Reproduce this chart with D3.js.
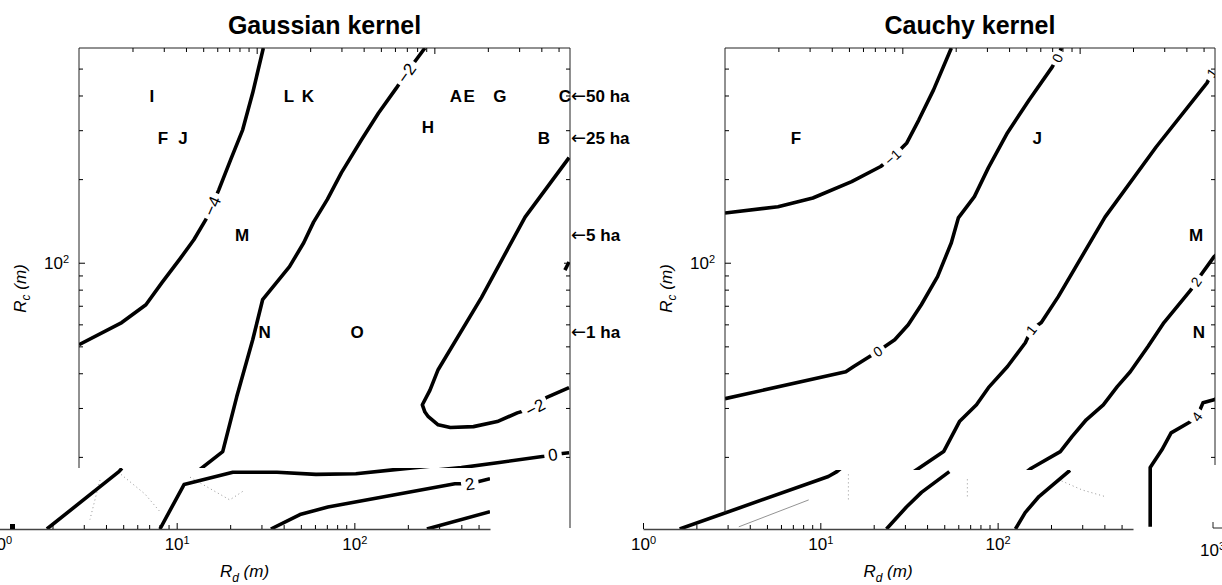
<!DOCTYPE html>
<html lang="en">
<head>
<meta charset="UTF-8">
<title>Gaussian and Cauchy kernel</title>
<script src="https://cdn.jsdelivr.net/npm/d3@7"></script>
<style>
  body { margin: 0; background: #fff; }
  text { font-family: "Liberation Sans", Arial, sans-serif; fill: #000; }
</style>
</head>
<body>
<svg id="chart" width="1222" height="585"></svg>
<script>
// axis domains (metres) and ticks
const rdDomain = [1, 580];
const rcDomain = [11, 593];
const xMajor = [1, 10, 100];
const xMinor = [2, 3, 4, 5, 6, 7, 8, 9, 20, 30, 40, 50, 60, 70, 80, 90, 200, 300, 400, 500];
const yMajor = [100];
const yMinor = [20, 30, 40, 50, 60, 70, 80, 90, 200, 300, 400, 500];
const areaHa = [50, 25, 5, 1];

// landscapes: letter, Rd (m), area (ha) -> Rc = sqrt(A/pi)
const gaussLetters = ["I", "L", "K", "A", "E", "G", "C", "F", "J", "H", "B", "M", "N", "O"];
const gaussLetterRd = [2.57, 15.2, 19.4, 132, 157, 234, 543, 2.97, 3.85, 92, 414, 8.27, 11.1, 36.7];
const gaussLetterHa = [50, 50, 50, 50, 50, 50, 50, 25, 25, 30, 25, 5, 1, 1];
const cauchyLetters = ["F", "J", "M", "N"];
const cauchyLetterRd = [2.51, 57.7, 453, 471];
const cauchyLetterHa = [25, 25, 5, 1];

// contour lines, [Rd, Rc] in metres -- Gaussian
const gaussM4 = [[10.9, 593], [9.5, 409], [8.34, 301], [7.14, 235], [6.12, 183], [5.6, 160], [5.17, 143], [4.43, 121], [3.69, 103], [2.93, 84.8], [2.38, 70.6], [1.74, 60.9], [1.0, 50.7]];
const gaussM2a = [[88.5, 593], [69.6, 482], [61.2, 426], [48.5, 346], [38.9, 277], [30.0, 211], [25.0, 169], [20.9, 140], [18.4, 118], [15.3, 96.8], [10.8, 73.6], [9.5, 52.8], [7.72, 32.9], [6.44, 20.9], [4.78, 18.0], [3.94, 16.85]];
const gaussM2b = [[573, 239], [324, 146], [184, 74.9], [105, 41.2], [94.5, 34.8], [85.6, 30.8], [88.5, 29.0], [92.5, 27.9], [105, 26.1], [123, 25.5], [166, 25.7], [226, 26.8], [293, 28.8], [369, 30.1], [426, 32.7], [573, 35.5]];
const gauss0 = [[82.4, 17.7], [142, 18.3], [232, 19.1], [415, 20.1], [465, 20.4], [573, 20.7]];
const gaussEdgeBit = [[543, 94.1], [573, 100.6]];
// bottom (shifted) strip -- Gaussian
const gaussStrip1 = [[1.86, 11.0], [4.73, 17.7], [4.92, 18.2]];
const gaussStrip2 = [[8.05, 11.0], [11.0, 15.9], [20.7, 17.6], [36.7, 17.6], [60.8, 17.3], [102, 17.4], [169, 18.0], [266, 18.5]];
const gaussStrip3 = [[33.9, 11.0], [49.4, 12.4], [71.0, 13.2], [169, 14.6], [368, 16.0], [447, 16.0], [580, 16.7]];
const gaussStrip4 = [[256, 11.0], [580, 12.7]];
const gaussDust = [
    [[4.86, 17.3], [6.63, 14.7], [8.05, 12.7]],
    [[3.7, 16.5], [3.25, 11.9]],
    [[11.9, 16.9], [19.9, 14.0], [24.2, 15.2]]
];

// contour lines -- Cauchy
const cauchyM1 = [[18.9, 593], [15.0, 419], [12.4, 327], [10.6, 270], [8.82, 240], [7.55, 222], [5.18, 196], [3.13, 171], [1.99, 159], [1.0, 151]];
const cauchy0 = [[78.8, 593], [74.8, 546], [70.1, 507], [52.0, 386], [39.2, 294], [30.6, 220], [25.5, 173], [20.7, 145], [18.9, 118], [15.8, 89.1], [12.8, 70.6], [10.8, 59.8], [9.06, 52.8], [7.26, 47.9], [5.32, 42.3], [4.8, 40.5], [1.0, 32.4]];
const cauchy1 = [[611, 511], [557, 482], [523, 444], [270, 261], [139, 146], [75.8, 75.5], [60.8, 60.9], [53.4, 57.4], [49.4, 51.5], [39.2, 42.3], [30.6, 35.5], [26.2, 30.8], [21.0, 26.8], [17.1, 20.9], [12.4, 18.2], [11.0, 17.3]];
const cauchy2 = [[620, 110], [572, 105], [453, 85.4], [425, 80.0], [299, 60.9], [243, 49.9], [193, 40.5], [163, 35.8], [136, 30.8], [109, 27.2], [90.8, 23.7], [77.8, 20.9], [53.4, 18.2], [48.7, 17.4]];
const cauchy4 = [[620, 33], [572, 32.1], [496, 31.3], [459, 27.9], [414, 26.6], [328, 24.4], [291, 21.2], [250, 18.3], [250, 11.2]];
const cauchyStrip1 = [[1.61, 11.0], [11.1, 17.0], [12.4, 17.7], [13.2, 18.3]];
const cauchyStrip2 = [[53.4, 17.7], [37.2, 14.9], [30.6, 13.2], [23.6, 11.0]];
const cauchyStrip3 = [[256, 17.9], [171, 14.4], [143, 12.6], [126, 11.0]];
const cauchyFaint = [[3.47, 11.2], [8.6, 14.0]];
const cauchyDust = [
    [[14.4, 17.3], [14.4, 14.0]],
    [[67.5, 16.6], [67.5, 14.4]],
    [[219, 16.6], [300, 15.2], [403, 14.4]]
];

const TOP = 48, BOTTOM = 529;
const svg = d3.select("#chart");
const defs = svg.append("defs");

const minus = v => v < 0 ? "\u2212" + Math.abs(v) : String(v);

function supLabels(sel) {
    sel.selectAll(".tick text").each(function (d) {
        const t = d3.select(this).text(null);
        t.append("tspan").text("10");
        t.append("tspan").attr("font-size", 11).attr("dy", "-0.55em").text(Math.round(Math.log10(d)));
    });
}

function drawContour(layer, c, x, y, fs) {
    const line = d3.line().x(d => x(d[0])).y(d => y(d[1]));
    layer.append("path")
        .attr("d", line(c.pts))
        .attr("fill", "none")
        .attr("stroke", c.faint ? "#777" : "#000")
        .attr("stroke-width", c.faint ? 0.8 : 3.6)
        .attr("stroke-dasharray", c.dash || null)
        .attr("stroke-linejoin", "round");
    (c.labels || []).forEach(i => {
        const a = c.pts[Math.max(i - 1, 0)], b = c.pts[Math.min(i + 1, c.pts.length - 1)];
        let ang = Math.atan2(y(b[1]) - y(a[1]), x(b[0]) - x(a[0])) * 180 / Math.PI;
        if (ang > 90) ang -= 180;
        if (ang < -90) ang += 180;
        const lg = layer.append("g")
            .attr("transform", `translate(${x(c.pts[i][0])},${y(c.pts[i][1])}) rotate(${ang})`);
        const t = lg.append("text")
            .attr("text-anchor", "middle")
            .attr("dy", "0.36em")
            .attr("font-size", fs)
            .text(minus(c.level));
        const w = t.node().getComputedTextLength();
        lg.insert("rect", "text")
            .attr("x", -w / 2 - 4).attr("y", -fs * 0.45)
            .attr("width", w + 8).attr("height", fs * 0.9)
            .attr("fill", "#fff");
    });
}

function drawPanel(p, idx) {
    const x = d3.scaleLog().domain(rdDomain).range([p.left, p.right]);
    const xs = d3.scaleLog().domain(rdDomain).range([p.left - p.shift, p.right - p.shift]);
    const y = d3.scaleLog().domain(rcDomain).range([BOTTOM, TOP]);
    const g = svg.append("g");

    // clips: upper part and the shifted bottom strip
    const cu = defs.append("clipPath").attr("id", "up" + idx);
    cu.append("rect").attr("x", p.left).attr("y", TOP).attr("width", p.right - p.left).attr("height", p.cut - TOP);
    if (p.extra) cu.append("rect").attr("x", p.extra).attr("y", p.cut).attr("width", p.right - p.extra).attr("height", BOTTOM - p.cut);
    const cs = defs.append("clipPath").attr("id", "st" + idx);
    cs.append("rect").attr("x", xs.range()[0]).attr("y", p.cut).attr("width", xs.range()[1] - xs.range()[0]).attr("height", BOTTOM - p.cut);

    const up = g.append("g").attr("clip-path", `url(#up${idx})`);
    p.contours.forEach(c => drawContour(up, c, x, y, p.fs));
    const st = g.append("g").attr("clip-path", `url(#st${idx})`);
    p.dust.forEach(d => drawContour(st, {pts: d, faint: true, dash: "1,3"}, xs, y, p.fs));
    p.strip.forEach(c => drawContour(st, c, xs, y, p.fs));

    // box lines
    const box = g.append("g").attr("stroke", "#222").attr("stroke-width", 1).attr("fill", "none");
    box.append("path").attr("d", `M${p.left},${p.leftEnd}V${TOP}H${p.right}V${p.rightEnd}`);

    // top ticks (inward)
    const xIn = xMinor.filter(v => v <= rdDomain[1]);
    g.append("g").attr("transform", `translate(0,${TOP})`)
        .call(d3.axisBottom(x).tickValues(xIn).tickSizeInner(4).tickSizeOuter(0).tickFormat(""))
        .call(s => s.select(".domain").remove());
    g.append("g").attr("transform", `translate(0,${TOP})`)
        .call(d3.axisBottom(x).tickValues(xMajor.slice(1)).tickSizeInner(6).tickSizeOuter(0).tickFormat(""))
        .call(s => s.select(".domain").remove());

    // left and right ticks
    const ySel = [[p.left, -1], [p.right, 1]];
    ySel.forEach(([xp, side]) => {
        const mk = side < 0 ? d3.axisLeft : d3.axisRight;
        g.append("g").attr("transform", `translate(${xp},0)`)
            .call(mk(y).tickValues(yMinor).tickSizeInner(-4).tickSizeOuter(0).tickFormat(""))
            .call(s => s.select(".domain").remove());
        g.append("g").attr("transform", `translate(${xp},0)`)
            .call(mk(y).tickValues(yMajor).tickSizeInner(-6).tickSizeOuter(0).tickPadding(10).tickFormat(side < 0 ? null : ""))
            .call(s => s.select(".domain").remove())
            .call(s => s.selectAll("text").attr("font-size", 17).attr("font-family", "Liberation Sans, Arial, sans-serif"))
            .call(s => { if (side < 0) supLabels(s); });
    });

    // bottom strip axis
    g.append("g").attr("transform", `translate(0,${BOTTOM})`)
        .call(d3.axisBottom(xs).tickValues(xIn).tickSizeInner(-4).tickSizeOuter(0).tickFormat(""))
        .call(s => s.select(".domain").attr("stroke", "#444").attr("stroke-width", 1.6));
    g.append("g").attr("transform", `translate(0,${BOTTOM})`)
        .call(d3.axisBottom(xs).tickValues(xMajor).tickSizeInner(-6).tickSizeOuter(0).tickPadding(9))
        .call(s => s.select(".domain").remove())
        .call(s => s.selectAll("text").attr("font-size", 17).attr("font-family", "Liberation Sans, Arial, sans-serif"))
        .call(supLabels);

    // landscape letters
    p.letters.forEach((l, i) => {
        g.append("text")
            .attr("x", x(p.letterRd[i]))
            .attr("y", y(Math.sqrt(p.letterHa[i] * 1e4 / Math.PI)))
            .attr("dy", "0.36em")
            .attr("text-anchor", "middle")
            .attr("font-size", 17)
            .attr("font-weight", "bold")
            .text(l);
    });

    // titles
    g.append("text").attr("x", (p.left + p.right) / 2).attr("y", 34)
        .attr("text-anchor", "middle").attr("font-size", 25).attr("font-weight", "bold").text(p.title);

    const yl = g.append("text")
        .attr("transform", `translate(${p.left - 53},${(TOP + BOTTOM) / 2}) rotate(-90)`)
        .attr("text-anchor", "middle").attr("font-size", 17).attr("font-style", "italic");
    yl.append("tspan").text("R");
    yl.append("tspan").attr("font-size", 12).attr("dy", 4).text("c");
    yl.append("tspan").attr("dy", -4).text(" (m)");

    const xl = g.append("text")
        .attr("x", (xs.range()[0] + xs.range()[1]) / 2).attr("y", 577)
        .attr("text-anchor", "middle").attr("font-size", 17).attr("font-style", "italic");
    xl.append("tspan").text("R");
    xl.append("tspan").attr("font-size", 12).attr("dy", 5).text("d");
    xl.append("tspan").attr("dy", -5).text(" (m)");

    return {x, y, xs, g};
}

const left = drawPanel({
    title: "Gaussian kernel", left: 79, right: 570, cut: 468, shift: 80,
    leftEnd: 468, rightEnd: 528, fs: 17,
    contours: [
        {level: -4, pts: gaussM4, labels: [5]},
        {level: -2, pts: gaussM2a, labels: [1]},
        {level: -2, pts: gaussM2b, labels: [13]},
        {level: 0, pts: gauss0, labels: [4]},
        {level: 0, pts: gaussEdgeBit}
    ],
    strip: [
        {level: 2, pts: gaussStrip1},
        {level: 2, pts: gaussStrip2},
        {level: 2, pts: gaussStrip3, labels: [5]},
        {level: 4, pts: gaussStrip4}
    ],
    dust: gaussDust,
    letters: gaussLetters, letterRd: gaussLetterRd, letterHa: gaussLetterHa
}, 0);

const right = drawPanel({
    title: "Cauchy kernel", left: 725, right: 1215, cut: 470, shift: 82, extra: 1138,
    leftEnd: 513, rightEnd: 465, fs: 14,
    contours: [
        {level: -1, pts: cauchyM1, labels: [4]},
        {level: 0, pts: cauchy0, labels: [1, 13]},
        {level: 1, pts: cauchy1, labels: [1, 7]},
        {level: 2, pts: cauchy2, labels: [2]},
        {level: 4, pts: cauchy4, labels: [3]}
    ],
    strip: [
        {level: 0, pts: cauchyStrip1},
        {level: 1, pts: cauchyStrip2},
        {level: 2, pts: cauchyStrip3},
        {level: 0, pts: cauchyFaint, faint: true}
    ],
    dust: cauchyDust,
    letters: cauchyLetters, letterRd: cauchyLetterRd, letterHa: cauchyLetterHa
}, 1);

// area markers on the right edge of the Gaussian panel
areaHa.forEach(a => {
    const t = left.g.append("text")
        .attr("x", 571)
        .attr("y", left.y(Math.sqrt(a * 1e4 / Math.PI)))
        .attr("dy", "0.36em")
        .attr("font-size", 17);
    t.append("tspan").attr("font-family", "DejaVu Sans").attr("font-size", 18).text("\u2190");
    t.append("tspan").attr("font-weight", "bold").text(a + " ha");
});

// leftovers of the clipped rendering
left.g.append("rect").attr("x", 10).attr("y", 524).attr("width", 5).attr("height", 5).attr("fill", "#000");
right.g.append("path").attr("d", "M1213,522V528H1222").attr("fill", "none").attr("stroke", "#222");
const t3 = right.g.append("text").attr("x", 1200).attr("y", 556).attr("font-size", 17);
t3.append("tspan").text("10");
t3.append("tspan").attr("font-size", 11).attr("dy", "-0.55em").text("3");
</script>
</body>
</html>
